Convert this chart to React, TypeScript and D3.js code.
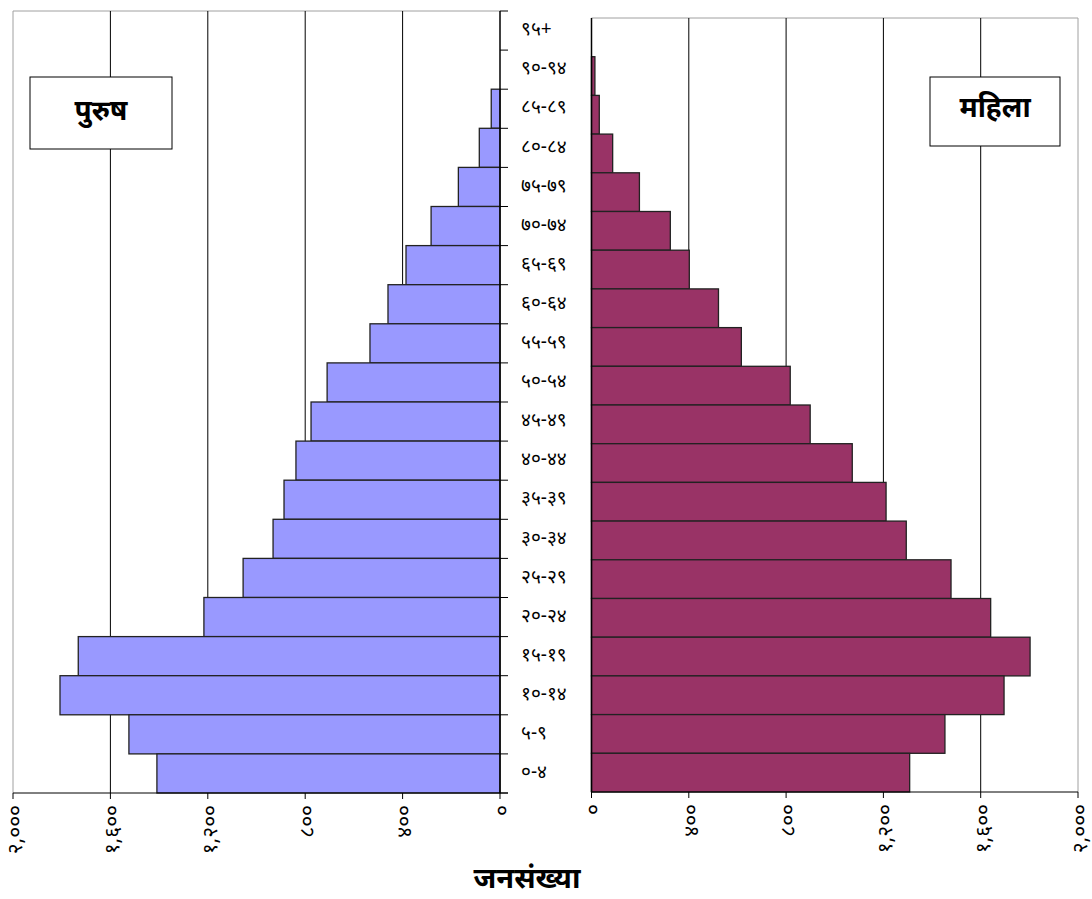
import React from "react";
import * as d3 from "d3";

const ageGroups = ["९५+", "९०-९४", "८५-८९", "८०-८४", "७५-७९", "७०-७४", "६५-६९", "६०-६४", "५५-५९", "५०-५४", "४५-४९", "४०-४४", "३५-३९", "३०-३४", "२५-२९", "२०-२४", "१५-१९", "१०-१४", "५-९", "०-४"];
const maleValues = [0, 0, 36, 85, 171, 283, 386, 460, 534, 710, 776, 838, 887, 932, 1055, 1216, 1732, 1807, 1524, 1409];
const femaleValues = [0, 14, 32, 87, 197, 324, 402, 522, 616, 817, 899, 1072, 1211, 1294, 1478, 1641, 1803, 1696, 1453, 1308];
const tickValues = [0, 400, 800, 1200, 1600, 2000];
const tickLabels = ["०", "४००", "८००", "१,२००", "१,६००", "२,०००"];
const maleLabel = "पुरुष";
const femaleLabel = "महिला";
const axisTitle = "जनसंख्या";

const FONT = "'Noto Sans', 'DejaVu Sans', sans-serif";

export default function App() {
  const W = 1092, H = 899;
  const left = { x0: 13, x1: 500, y0: 11, y1: 793 };
  const right = { x0: 591.5, x1: 1078, y0: 18, y1: 792 };

  const xL = d3.scaleLinear().domain([0, 2000]).range([left.x1, left.x0]);
  const xR = d3.scaleLinear().domain([0, 2000]).range([right.x0, right.x1]);
  const yL = d3.scaleBand().domain(ageGroups).range([left.y0, left.y1]).padding(0);
  const yR = d3.scaleBand().domain(ageGroups).range([right.y0, right.y1]).padding(0);

  const labelY = d3.scaleBand().domain(ageGroups).range([left.y0, left.y1]).padding(0);

  return (
    <svg width={W} height={H} style={{ position: "absolute", left: 0, top: 0, background: "#fff" }}>
      {/* left panel frame */}
      <line x1={left.x0} x2={left.x1} y1={left.y0} y2={left.y0} stroke="#a0a0a0" strokeWidth={1} />
      <line x1={left.x0} x2={left.x0} y1={left.y0} y2={left.y1} stroke="#a0a0a0" strokeWidth={1} />
      {tickValues.filter(v => v > 0 && v < 2000).map(v => (
        <line key={"gl" + v} x1={xL(v)} x2={xL(v)} y1={left.y0} y2={left.y1} stroke="#000" strokeWidth={1} />
      ))}
      {/* right panel frame */}
      <line x1={right.x0} x2={right.x1} y1={right.y0} y2={right.y0} stroke="#a0a0a0" strokeWidth={1} />
      <line x1={right.x1} x2={right.x1} y1={right.y0} y2={right.y1} stroke="#a0a0a0" strokeWidth={1} />
      {tickValues.filter(v => v > 0 && v < 2000).map(v => (
        <line key={"gr" + v} x1={xR(v)} x2={xR(v)} y1={right.y0} y2={right.y1} stroke="#000" strokeWidth={1} />
      ))}

      {/* male bars */}
      {ageGroups.map((g, i) => maleValues[i] > 0 ? (
        <rect key={"m" + g} x={xL(maleValues[i])} y={yL(g)!} width={xL(0) - xL(maleValues[i])} height={yL.bandwidth()}
          fill="#9999FF" stroke="#222" strokeWidth={1.3} />
      ) : null)}
      {/* female bars */}
      {ageGroups.map((g, i) => femaleValues[i] > 0 ? (
        <rect key={"f" + g} x={xR(0)} y={yR(g)!} width={xR(femaleValues[i]) - xR(0)} height={yR.bandwidth()}
          fill="#993366" stroke="#222" strokeWidth={1.3} />
      ) : null)}

      {/* left axes */}
      <line x1={left.x1} x2={left.x1} y1={left.y0} y2={left.y1} stroke="#000" strokeWidth={1.5} />
      {ageGroups.map(g => (
        <line key={"lt" + g} x1={left.x1} x2={left.x1 + 8} y1={yL(g)!} y2={yL(g)!} stroke="#000" strokeWidth={1} />
      ))}
      <line x1={left.x1} x2={left.x1 + 8} y1={left.y1} y2={left.y1} stroke="#000" strokeWidth={1} />
      <line x1={left.x0} x2={left.x1 + 8} y1={left.y1} y2={left.y1} stroke="#000" strokeWidth={1} />
      {tickValues.map(v => (
        <line key={"lbt" + v} x1={xL(v)} x2={xL(v)} y1={left.y1} y2={left.y1 + 6} stroke="#000" strokeWidth={1} />
      ))}
      {tickValues.map((v, i) => (
        <text key={"ltl" + v} transform={`translate(${xL(v)},${left.y1 + 12}) rotate(-90)`} dy="0.42em"
          fontSize={21} fontFamily={FONT} textAnchor="end" fill="#000">{tickLabels[i]}</text>
      ))}

      {/* right axes */}
      <line x1={right.x0} x2={right.x0} y1={right.y0} y2={right.y1} stroke="#000" strokeWidth={1.5} />
      <line x1={right.x0} x2={right.x1} y1={right.y1} y2={right.y1} stroke="#000" strokeWidth={1} />
      {tickValues.map(v => (
        <line key={"rbt" + v} x1={xR(v)} x2={xR(v)} y1={right.y1} y2={right.y1 + 6} stroke="#000" strokeWidth={1} />
      ))}
      {tickValues.map((v, i) => (
        <text key={"rtl" + v} transform={`translate(${xR(v)},${right.y1 + 12}) rotate(-90)`} dy="0.42em"
          fontSize={21} fontFamily={FONT} textAnchor="end" fill="#000">{tickLabels[i]}</text>
      ))}

      {/* age labels */}
      {ageGroups.map(g => (
        <text key={"al" + g} x={521} y={labelY(g)! + labelY.bandwidth() / 2 - 2} dy="0.35em"
          fontSize={19} fontFamily={FONT} fill="#000">{g}</text>
      ))}

      {/* legend boxes */}
      <rect x={30} y={77} width={142} height={72} fill="#fff" stroke="#000" strokeWidth={1} />
      <text x={101} y={110} dy="0.35em" textAnchor="middle" fontSize={28} fontWeight="bold" fontFamily={FONT}>{maleLabel}</text>
      <rect x={930} y={77} width={130} height={69} fill="#fff" stroke="#000" strokeWidth={1} />
      <text x={995} y={107} dy="0.35em" textAnchor="middle" fontSize={28} fontWeight="bold" fontFamily={FONT}>{femaleLabel}</text>

      {/* axis title */}
      <text x={527} y={878} dy="0.35em" textAnchor="middle" fontSize={29} fontWeight="bold" fontFamily={FONT}>{axisTitle}</text>
    </svg>
  );
}
